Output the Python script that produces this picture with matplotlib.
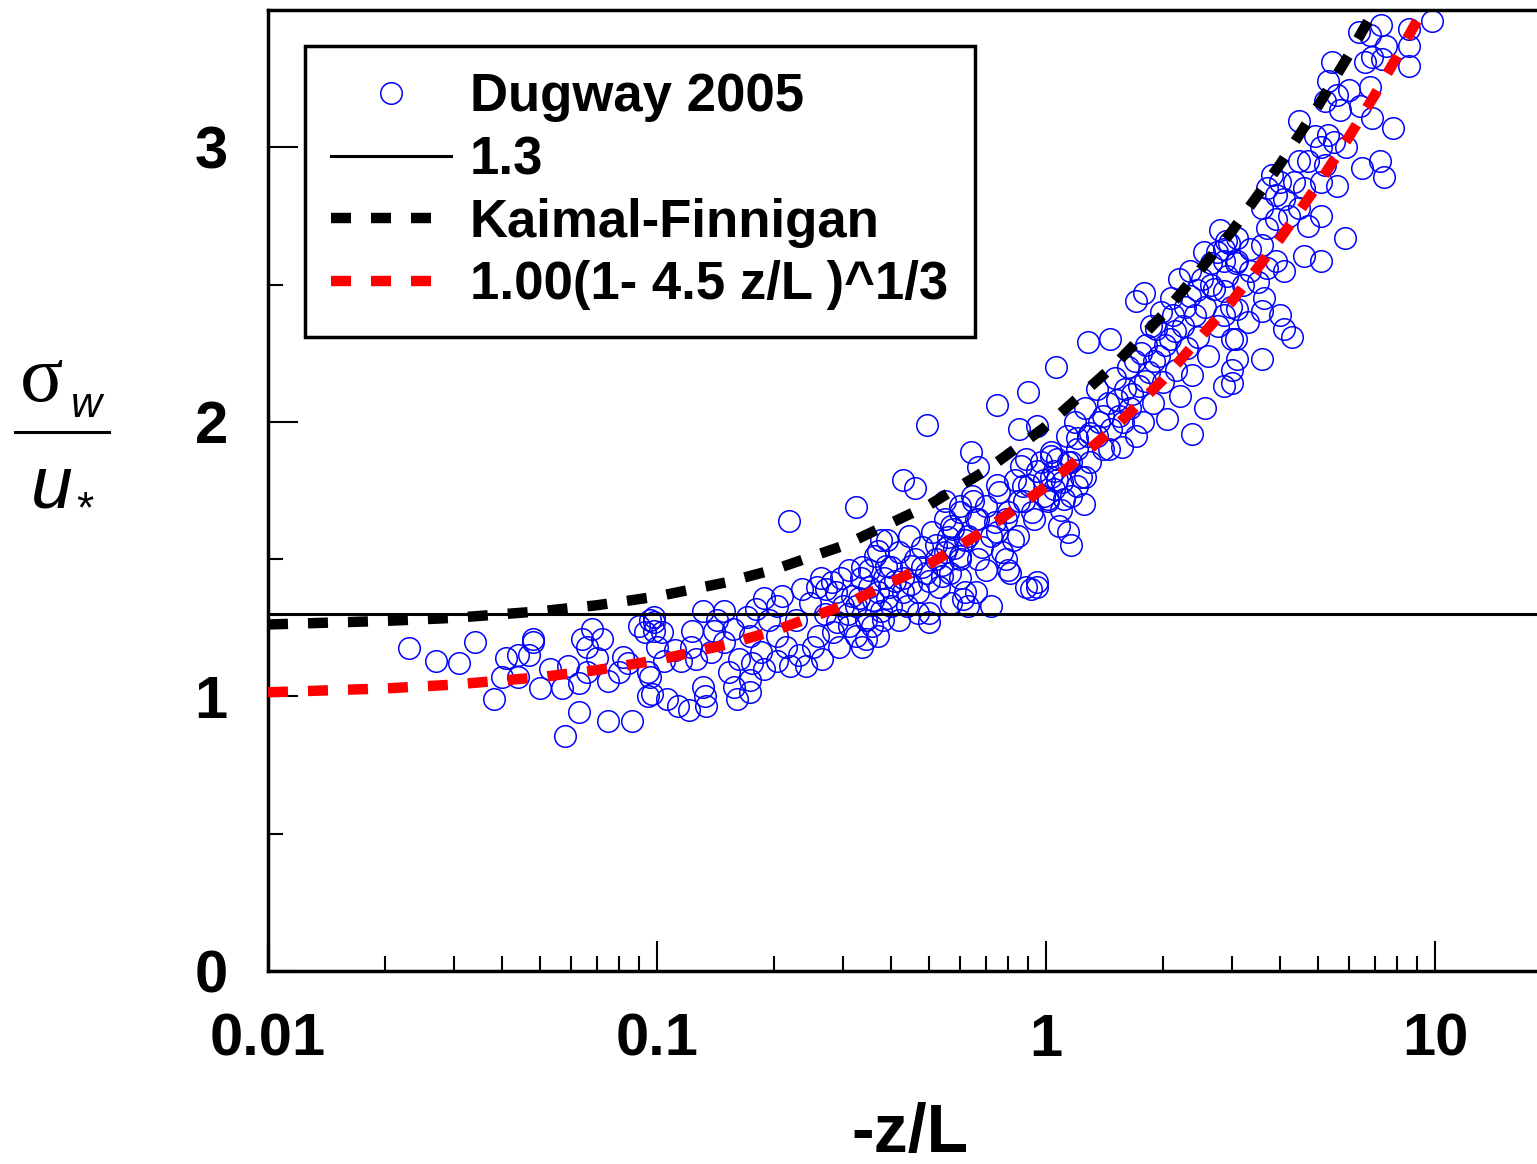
import matplotlib
matplotlib.use('Agg')
import matplotlib.pyplot as plt
from matplotlib.lines import Line2D
from matplotlib.ticker import FixedLocator, FuncFormatter, LogLocator, NullFormatter

# Dugway 2005 observations: -z/L and sigma_w/u*
dugway_x = [
    0.023, 0.027, 0.031, 0.034, 0.038, 0.040, 0.041, 0.044, 0.047, 0.048,
    0.048, 0.044, 0.050, 0.053, 0.057, 0.058, 0.059, 0.063, 0.063, 0.064,
    0.066, 0.068, 0.072, 0.066, 0.070, 0.075, 0.075, 0.080, 0.082, 0.086,
    0.084, 0.090, 0.093, 0.095, 0.095, 0.096, 0.098, 0.098, 0.098, 0.103,
    0.123, 0.131, 0.143, 0.149, 0.140, 0.157, 0.170, 0.173, 0.180, 0.188,
    0.194, 0.203, 0.210, 0.204, 0.228, 0.236, 0.247, 0.257, 0.264, 0.272,
    0.281, 0.289, 0.297, 0.312, 0.318, 0.325, 0.334, 0.345, 0.345, 0.350,
    0.364, 0.370, 0.376, 0.384, 0.376, 0.370, 0.390, 0.336, 0.218, 0.325,
    0.100, 0.096, 0.097, 0.104, 0.111, 0.106, 0.113, 0.121, 0.115, 0.122,
    0.126, 0.131, 0.133, 0.134, 0.138, 0.149, 0.153, 0.158, 0.161, 0.162,
    0.173, 0.173, 0.175, 0.185, 0.188, 0.203, 0.215, 0.220, 0.232, 0.242,
    0.251, 0.260, 0.266, 0.283, 0.294, 0.312, 0.325, 0.336, 0.357, 0.370,
    0.27, 0.29, 0.30, 0.31, 0.33, 0.35, 0.36, 0.38, 0.39, 0.41,
    0.40, 0.43, 0.45, 0.46, 0.48, 0.50, 0.52, 0.54, 0.56, 0.58,
    0.494, 0.75, 0.90, 0.95, 0.64, 0.67, 0.43, 0.46, 0.388, 0.395,
    0.40, 0.42, 0.43, 0.445, 0.45, 0.47, 0.48, 0.49, 0.50, 0.51,
    0.52, 0.53, 0.55, 0.555, 0.565, 0.575, 0.60, 0.60, 0.62, 0.63,
    0.63, 0.645, 0.66, 0.67, 0.70, 0.72, 0.74, 0.755, 0.77, 0.80,
    0.81, 0.83, 0.845, 0.86, 0.88, 0.905, 0.915, 0.95, 0.93, 0.97,
    0.99, 1.01, 1.03, 1.05, 1.08, 0.61, 0.72, 0.47, 0.42, 0.50,
    0.44, 0.57,
    0.55, 0.60, 0.57, 0.65, 0.67, 0.62, 0.685, 0.75, 0.79, 0.82,
    0.79, 0.85, 0.87, 0.92, 0.95, 0.99, 1.03, 1.07, 1.11, 1.16,
    1.20, 1.26, 1.30, 0.89, 0.95, 0.80, 0.70, 0.60, 0.55, 0.54,
    0.60, 0.66, 0.75, 0.89, 0.85, 1.20, 1.25,
    1.06, 1.28, 1.46, 1.70, 1.79, 2.56, 2.37, 1.14, 1.16, 2.86,
    3.0, 1.01, 1.03, 1.05, 1.07, 1.09, 1.10, 1.13, 1.14, 1.16,
    1.19, 1.20, 1.23, 1.26, 1.28, 1.30, 1.35, 1.37, 1.40, 1.44,
    1.47, 1.50, 1.54, 1.57, 1.60, 1.64, 1.69, 1.70, 1.73, 1.77,
    1.81, 1.84, 1.88, 1.92, 1.95, 2.0, 2.04, 2.08, 2.12, 2.16,
    2.21, 2.25, 2.30, 2.34, 2.37, 2.42, 2.46, 2.51, 2.56, 2.61,
    2.66, 2.70, 2.76, 2.86, 2.92, 2.98, 3.07, 3.01, 3.07,
    1.35, 1.40, 1.45, 1.52, 1.58, 1.62, 1.66, 1.75, 1.80, 1.86,
    1.90, 1.98, 2.02, 2.10, 2.15, 2.20, 2.28, 2.35, 2.45, 2.55,
    2.65, 2.75, 2.80, 2.95,
    7.24, 6.37, 6.8, 8.55, 9.8, 7.5, 8.55, 6.9, 6.6, 7.3,
    8.55, 5.42, 5.3, 6.0, 5.6, 5.2, 6.4, 5.7, 6.8, 6.9,
    7.8, 4.47, 4.9, 5.3, 5.5, 5.9, 5.1, 5.2, 4.7, 4.47,
    6.5, 7.2, 7.4, 3.80, 4.0, 3.7, 3.9, 4.1, 4.35, 4.6,
    5.1, 5.6, 4.2, 4.47, 5.1, 4.7, 5.85, 3.9, 3.6, 3.7,
    3.35, 3.1, 2.9, 3.6, 4.6, 5.1, 3.9, 4.1, 3.7, 3.35,
    3.1, 2.86, 3.2, 3.5, 2.86, 3.6, 4.0, 4.1, 4.3, 3.1,
    3.0, 3.3, 2.86, 3.1, 3.6, 3.63,
]
dugway_y = [
    1.175, 1.13, 1.12, 1.20, 0.99, 1.07, 1.14, 1.15, 1.15, 1.21,
    1.20, 1.07, 1.03, 1.10, 1.03, 0.855, 1.11, 1.05, 0.945, 1.21,
    1.18, 1.245, 1.21, 1.09, 1.14, 0.91, 1.055, 1.09, 1.145, 0.91,
    1.12, 1.255, 1.235, 1.0, 1.09, 1.28, 1.29, 1.24, 1.27, 1.235,
    1.24, 1.31, 1.28, 1.31, 1.24, 1.245, 1.29, 1.22, 1.32, 1.36,
    1.28, 1.33, 1.365, 1.22, 1.28, 1.39, 1.34, 1.40, 1.43, 1.39,
    1.415, 1.38, 1.43, 1.46, 1.365, 1.33, 1.43, 1.28, 1.21, 1.46,
    1.51, 1.38, 1.31, 1.43, 1.57, 1.53, 1.57, 1.47, 1.64, 1.69,
    1.18, 1.07, 1.01, 1.13, 1.17, 0.99, 0.965, 0.95, 1.13, 1.18,
    1.135, 1.035, 1.0, 0.965, 1.16, 1.20, 1.09, 1.035, 0.99, 1.135,
    1.06, 1.015, 1.12, 1.16, 1.10, 1.13, 1.18, 1.11, 1.15, 1.11,
    1.18, 1.22, 1.135, 1.235, 1.18, 1.255, 1.22, 1.18, 1.255, 1.22,
    1.30, 1.27, 1.33, 1.30, 1.36, 1.40, 1.35, 1.28, 1.36, 1.42,
    1.47, 1.38, 1.41, 1.50, 1.47, 1.42, 1.55, 1.48, 1.58, 1.54,
    1.99, 2.06, 2.11, 1.985, 1.89, 1.835, 1.79, 1.76, 1.475, 1.40,
    1.33, 1.525, 1.43, 1.585, 1.475, 1.38, 1.545, 1.45, 1.305, 1.60,
    1.50, 1.40, 1.645, 1.545, 1.45, 1.61, 1.695, 1.51, 1.38, 1.585,
    1.33, 1.73, 1.645, 1.50, 1.695, 1.585, 1.635, 1.745, 1.525, 1.67,
    1.45, 1.79, 1.585, 1.84, 1.71, 1.77, 1.39, 1.40, 1.645, 1.855,
    1.79, 1.72, 1.875, 1.82, 1.62, 1.355, 1.33, 1.305, 1.28, 1.27,
    1.33, 1.34,
    1.71, 1.67, 1.62, 1.71, 1.645, 1.57, 1.545, 1.60, 1.645, 1.57,
    1.50, 1.71, 1.765, 1.67, 1.82, 1.73, 1.89, 1.79, 1.72, 1.855,
    1.94, 1.80, 1.96, 1.40, 1.415, 1.46, 1.46, 1.50, 1.525, 1.44,
    1.43, 1.38, 1.77, 1.865, 1.975, 1.765, 1.70,
    2.20, 2.29, 2.30, 2.44, 2.47, 2.05, 1.955, 1.60, 1.55, 2.13,
    2.14, 1.71, 1.80, 1.755, 1.865, 1.68, 1.78, 1.95, 1.855, 1.73,
    2.0, 1.90, 1.80, 2.05, 1.95, 1.855, 2.12, 2.0, 1.90, 2.07,
    1.975, 2.16, 2.02, 1.91, 2.12, 2.05, 2.22, 1.95, 2.13, 2.0,
    2.28, 2.18, 2.07, 2.34, 2.24, 2.145, 2.01, 2.30, 2.39, 2.19,
    2.095, 2.35, 2.27, 2.46, 2.17, 2.39, 2.31, 2.52, 2.42, 2.24,
    2.58, 2.485, 2.35, 2.63, 2.53, 2.42, 2.58, 2.19, 2.30,
    1.95, 2.02, 1.90, 2.08, 2.00, 2.20, 2.10, 2.25, 2.15, 2.35,
    2.22, 2.40, 2.28, 2.45, 2.33, 2.52, 2.42, 2.55, 2.48, 2.62,
    2.50, 2.62, 2.70, 2.65,
    3.445, 3.42, 3.41, 3.43, 3.46, 3.37, 3.37, 3.33, 3.31, 3.32,
    3.295, 3.31, 3.24, 3.21, 3.19, 3.17, 3.15, 3.135, 3.22, 3.105,
    3.07, 3.095, 3.04, 3.045, 3.02, 3.0, 3.0, 2.935, 2.95, 2.95,
    2.925, 2.95, 2.89, 2.90, 2.875, 2.85, 2.825, 2.81, 2.875, 2.85,
    2.875, 2.86, 2.75, 2.78, 2.75, 2.715, 2.67, 2.74, 2.78, 2.705,
    2.63, 2.67, 2.66, 2.645, 2.605, 2.585, 2.585, 2.55, 2.56, 2.55,
    2.585, 2.585, 2.50, 2.51, 2.475, 2.405, 2.39, 2.34, 2.31, 2.41,
    2.30, 2.365, 2.39, 2.23, 2.23, 2.45,
]

# reference level
ref_level = 1.3

# Kaimal-Finnigan curve
kf_x = [0.01, 0.02, 0.03, 0.05, 0.07, 0.1, 0.15, 0.2, 0.3, 0.5,
        0.7, 1.0, 1.5, 2.0, 3.0, 4.0, 5.0, 6.0, 7.0]
kf_y = [1.262, 1.275, 1.286, 1.310, 1.332, 1.364, 1.415, 1.462, 1.548, 1.697,
        1.823, 1.984, 2.207, 2.391, 2.693, 2.939, 3.150, 3.336, 3.503]

# fitted curve 1.00(1-4.5 z/L)^1/3 (red dashed line)
fit_x = [0.01, 0.02, 0.03, 0.05, 0.07, 0.1, 0.15, 0.2, 0.3, 0.5,
         0.7, 1.0, 1.5, 2.0, 3.0, 4.0, 5.0, 6.0, 7.0, 8.0, 9.0, 10.0]
fit_y = [1.015, 1.029, 1.043, 1.070, 1.096, 1.132, 1.188, 1.239, 1.330, 1.481,
         1.607, 1.765, 1.979, 2.154, 2.438, 2.668, 2.864, 3.037, 3.191, 3.332,
         3.463, 3.583]

x_ticks = [0.01, 0.1, 1, 10]
y_ticks = [0, 1, 2, 3]
y_minor = [0.5, 1.5, 2.5]

plt.rcParams['font.family'] = ['Liberation Sans', 'DejaVu Sans']
plt.rcParams['lines.scale_dashes'] = False

W, H = 1537, 1164
fig = plt.figure(figsize=(W / 100, H / 100), dpi=100)
ax = fig.add_axes([268 / W, 193 / H, 1 - 268 / W, 961 / H])

ax.plot(dugway_x, dugway_y, 'o', mfc='none', mec='blue', ms=15.5, mew=1.1,
        label='Dugway 2005', zorder=2)
ax.axhline(ref_level, color='black', lw=2.2, label='1.3', zorder=3)
ax.plot(kf_x, kf_y, color='black', lw=7.5, ls=(0, (14.4, 14.4)),
        label='Kaimal-Finnigan', zorder=4)
ax.plot(fit_x, fit_y, color='red', lw=7.5, ls=(0, (14.4, 14.4)),
        label='1.00(1- 4.5 z/L )^1/3', zorder=4)

ax.set_xscale('log')
ax.set_xlim(0.01, 18.28)
ax.set_ylim(0, 3.5)

ax.xaxis.set_major_locator(FixedLocator(x_ticks))
ax.xaxis.set_minor_locator(LogLocator(base=10, subs=range(2, 10), numticks=20))
ax.xaxis.set_minor_formatter(NullFormatter())
ax.xaxis.set_major_formatter(FuncFormatter(lambda v, p: '%g' % v))
ax.yaxis.set_major_locator(FixedLocator(y_ticks))
ax.yaxis.set_minor_locator(FixedLocator(y_minor))

ax.tick_params(which='both', direction='in', width=1.5, top=False, right=False)
ax.tick_params(which='major', length=21.6, labelsize=43)
ax.tick_params(axis='y', which='major', pad=29)
ax.tick_params(axis='x', which='major', pad=30)
ax.tick_params(which='minor', length=10.8)
for lab in ax.get_xticklabels() + ax.get_yticklabels():
    lab.set_fontweight('bold')

for s in ['left', 'bottom', 'top']:
    ax.spines[s].set_linewidth(2.5)
ax.spines['right'].set_visible(False)

leg = ax.legend(loc='upper left', bbox_to_anchor=(0.029, 0.9625),
                prop={'weight': 'bold', 'size': 38}, frameon=True, fancybox=False,
                edgecolor='black', framealpha=1, handlelength=2.27,
                handletextpad=0.36, labelspacing=0.24, borderpad=0.5,
                borderaxespad=0)
leg.get_frame().set_linewidth(2.5)

# y label as a fraction sigma_w / u*
fig.text(42 / W, 1 - 401 / H, '\u03c3', family='Liberation Serif', size=58,
         ha='center', va='baseline')
fig.text(86 / W, 1 - 417 / H, 'w', style='italic', size=31,
         ha='center', va='baseline')
fig.add_artist(Line2D([15 / W, 109 / W], [1 - 432 / H, 1 - 432 / H],
                      color='black', lw=2.2))
fig.text(52 / W, 1 - 507 / H, 'u', style='italic', size=54,
         ha='center', va='baseline')
fig.text(85 / W, 1 - 522 / H, '*', size=32, ha='center', va='baseline')

fig.text(910 / W, 12 / H, '-z/L', weight='bold', size=49, ha='center', va='baseline')

fig.savefig('out.png', dpi=100)
